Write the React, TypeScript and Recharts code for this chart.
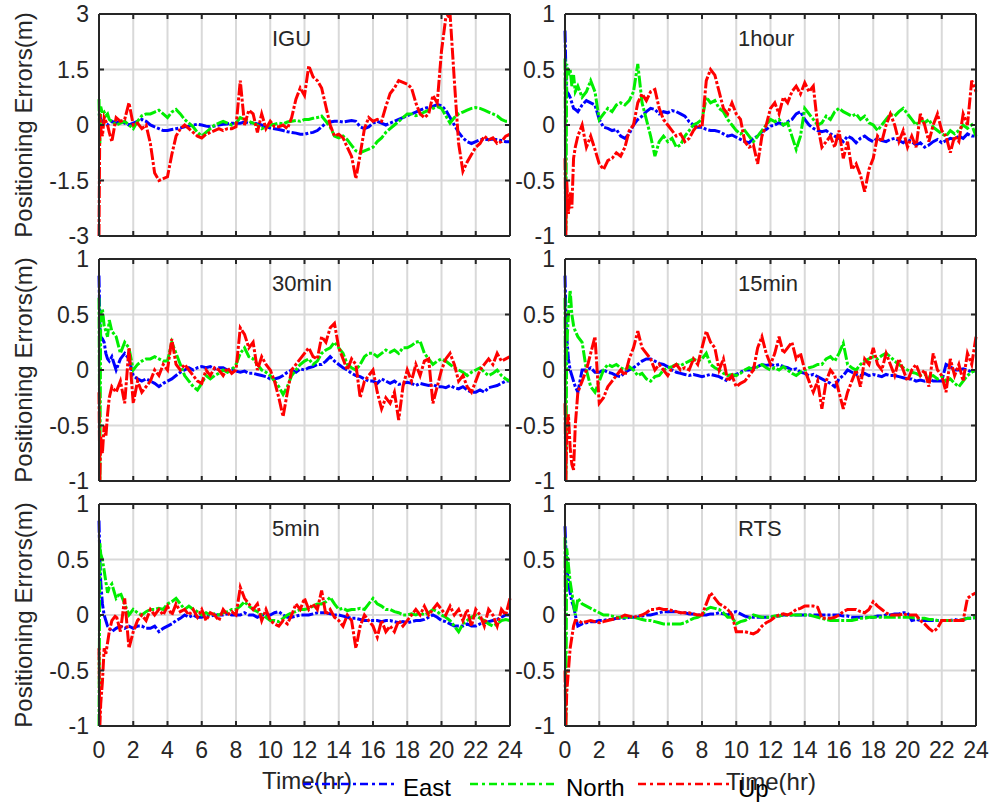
import { LineChart, Line, XAxis, YAxis, CartesianGrid } from "recharts";

const AXIS = "#262626";
const GRID = "#d9d9d9";
const FONT = "'Liberation Sans', Arial, sans-serif";
const EAST_COLOR = "#0000ff";
const NORTH_COLOR = "#00ee00";
const UP_COLOR = "#ff0000";
const DASH = "12 2 3 2";
const LEGEND_DASH = "8 4 3 4";

// time in hours (denser at the start where the filters converge)
const TIME = [
  0, 0.05, 0.1, 0.2, 0.3, 0.4, 0.5, 0.6, 0.75, 1,
  1.25, 1.5, 1.75, 2, 2.25, 2.5, 2.75, 3,
  3.25, 3.5, 3.75, 4, 4.25, 4.5, 4.75, 5,
  5.25, 5.5, 5.75, 6, 6.25, 6.5, 6.75, 7,
  7.25, 7.5, 7.75, 8, 8.25, 8.5, 8.75, 9,
  9.25, 9.5, 9.75, 10, 10.25, 10.5, 10.75, 11,
  11.25, 11.5, 11.75, 12, 12.25, 12.5, 12.75, 13,
  13.25, 13.5, 13.75, 14, 14.25, 14.5, 14.75, 15,
  15.25, 15.5, 15.75, 16, 16.25, 16.5, 16.75, 17,
  17.25, 17.5, 17.75, 18, 18.25, 18.5, 18.75, 19,
  19.25, 19.5, 19.75, 20, 20.25, 20.5, 20.75, 21,
  21.25, 21.5, 21.75, 22, 22.25, 22.5, 22.75, 23,
  23.25, 23.5, 23.75, 24,
];

const X_TICKS = [0, 2, 4, 6, 8, 10, 12, 14, 16, 18, 20, 22, 24];
const Y_TICKS_IGU = [-3, -1.5, 0, 1.5, 3];
const Y_TICKS = [-1, -0.5, 0, 0.5, 1];

// IGU
const IGU_EAST = [
  0.3, 0.25, 0.15, 0.1, 0.05, 0.05, 0, 0.05, 0.1, 0.05,
  0.1, 0.05, 0, 0.05, 0.1, 0.15, 0.1, 0,
  -0.05, -0.1, -0.15, -0.15, -0.12, -0.1, -0.08, -0.05,
  -0.03, 0, 0.02, 0, -0.03, -0.05, -0.03, 0,
  0.02, 0.03, 0.05, 0.05, 0.05, 0.08, 0.05, 0.06,
  0.03, 0, -0.05, -0.08, -0.1, -0.12, -0.15, -0.18,
  -0.2, -0.22, -0.25, -0.25, -0.22, -0.2, -0.15, -0.05,
  0.05, 0.08, 0.1, 0.1, 0.08, 0.1, 0.12, 0.1,
  -0.05, -0.1, -0.05, 0.05, 0.1, 0.05, 0, 0.05,
  0.1, 0.15, 0.2, 0.25, 0.3, 0.35, 0.4, 0.45,
  0.48, 0.5, 0.55, 0.52, 0.4, 0.2, 0, -0.2,
  -0.35, -0.45, -0.5, -0.45, -0.4, -0.38, -0.4, -0.38,
  -0.4, -0.42, -0.45, -0.45,
];
const IGU_NORTH = [
  0.7, -0.5, 0.5, 0.3, 0.35, 0.25, 0.3, 0.15, 0.1, 0,
  0.05, 0.1, 0, -0.1, 0.1, 0.25, 0.3, 0.3,
  0.35, 0.4, 0.3, 0.2, 0.35, 0.42, 0.3, 0.15,
  0.05, -0.05, -0.2, -0.3, -0.2, -0.1, 0, 0.05,
  0.1, 0.05, 0, 0.05, 0.2, 0.15, 0.1, 0.05,
  0, -0.1, -0.05, 0, 0.02, 0.05, 0.03, 0.08,
  0.1, 0.12, 0.1, 0.15, 0.15, 0.18, 0.2, 0.24,
  0.1, -0.05, -0.3, -0.35, -0.3, -0.4, -0.55, -0.7,
  -0.75, -0.7, -0.65, -0.6, -0.45, -0.35, -0.2, -0.1,
  0, 0.1, 0.2, 0.3, 0.3, 0.25, 0.28, 0.35,
  0.4, 0.45, 0.5, 0.45, 0.25, 0.05, 0.2, 0.3,
  0.35, 0.4, 0.45, 0.47, 0.45, 0.4, 0.35, 0.3,
  0.25, 0.15, 0.1, 0.1,
];
const IGU_UP = [
  -3, 0.3, -0.1, -0.3, 0.2, 0.1, 0, -0.2, -0.45, 0.2,
  0.1, 0.15, 0.6, 0, 0.05, -0.1, 0, -0.5,
  -1.3, -1.5, -1.45, -1.4, -0.8, -0.3, -0.1, 0,
  -0.1, -0.2, -0.3, -0.35, -0.25, -0.2, -0.15, -0.1,
  -0.15, -0.1, -0.1, -0.05, 1.2, 0, 0.4, 0.3,
  -0.2, 0.3, -0.1, 0.1, -0.05, -0.05, 0, -0.1,
  0.2, 0.7, 1, 0.8, 1.6, 1.3, 1.2, 1,
  0.5, 0, -0.3, -0.25, -0.35, -0.6, -0.85, -1.45,
  -0.8, -0.1, 0.2, 0.1, 0.15, 0.1, 0.5, 0.85,
  1, 1.2, 1.15, 1.1, 1, 0.6, 0.3, 0.2,
  0.3, 0.8, 0.6, 2, 2.9, 3, 1.2, -0.5,
  -1.25, -1, -0.8, -0.6, -0.5, -0.3, -0.4, -0.35,
  -0.5, -0.45, -0.3, -0.25,
];

// 1hour
const H1_EAST = [
  0.85, 0.5, 0.3, 0.28, 0.25, 0.2, 0.15, 0.14, 0.12, 0.18,
  0.22, 0.2, 0.18, 0.05, -0.02, -0.03, -0.05, -0.04,
  -0.1, -0.12, -0.08, 0, 0.05, 0.08, 0.12, 0.15,
  0.14, 0.1, 0.12, 0.11, 0.13, 0.12, 0.1, 0.08,
  0.03, 0, -0.02, -0.02, -0.04, -0.05, -0.05, -0.06,
  -0.08, -0.1, -0.09, -0.11, -0.13, -0.15, -0.16, -0.12,
  -0.1, -0.06, -0.04, -0.01, 0, 0.02, 0, 0.03,
  0.05, 0.1, 0.12, 0.05, 0, -0.03, -0.05, -0.06,
  -0.05, -0.08, -0.1, -0.12, -0.15, -0.1, -0.12, -0.16,
  -0.12, -0.1, -0.13, -0.15, -0.12, -0.14, -0.15, -0.13,
  -0.12, -0.14, -0.16, -0.13, -0.15, -0.18, -0.16, -0.2,
  -0.18, -0.15, -0.13, -0.16, -0.14, -0.12, -0.13, -0.1,
  -0.12, -0.08, -0.1, -0.1,
];
const H1_NORTH = [
  0.6, -0.95, 0.55, 0.45, 0.5, 0.35, 0.45, 0.3, 0.35, 0.25,
  0.3, 0.4, 0.3, 0.05, 0.1, 0.15, 0.12, 0.18,
  0.2, 0.18, 0.22, 0.3, 0.55, 0.2, 0.05, -0.1,
  -0.28, -0.15, -0.1, -0.15, -0.12, -0.2, -0.18, -0.1,
  -0.05, 0, 0.02, 0.05, 0.25, 0.2, 0.22, 0.15,
  0.12, 0.05, 0, -0.05, -0.08, -0.05, -0.1, -0.15,
  -0.1, -0.05, 0, 0.05, 0.03, 0.05, 0, 0.02,
  -0.1, -0.22, -0.1, 0.15, 0.1, 0.05, 0, 0.02,
  0.08, 0.05, 0.12, 0.15, 0.12, 0.1, 0.08, 0.1,
  0.05, 0.08, 0.02, 0, -0.05, 0, 0.05, 0.1,
  0.08, 0.12, 0.15, 0.1, 0.05, 0, 0.05, 0.02,
  0.05, -0.02, -0.05, -0.08, -0.1, -0.05, -0.08, -0.05,
  0, -0.03, 0, -0.1,
];
const H1_UP = [
  -0.3, -1, -0.5, -0.8, -0.6, -0.75, -0.3, -0.2, -0.1, 0,
  -0.2, -0.1, -0.22, -0.35, -0.4, -0.32, -0.3, -0.25,
  -0.28, -0.2, -0.05, 0, 0.2, 0.28, 0.22, 0.3,
  0.32, 0.15, 0.05, 0, -0.05, -0.1, -0.08, -0.15,
  -0.12, -0.05, 0, -0.02, 0.4, 0.5, 0.45, 0.3,
  0.15, 0.1, 0.2, 0.1, 0.05, -0.15, -0.2, -0.18,
  -0.35, -0.1, 0, 0.15, 0.2, 0.1, 0.25, 0.2,
  0.3, 0.35, 0.28, 0.38, 0.3, 0.35, 0, -0.2,
  -0.15, -0.1, -0.2, -0.05, -0.3, -0.15, -0.4, -0.35,
  -0.45, -0.6, -0.4, -0.3, -0.1, -0.15, 0, 0.1,
  0, -0.15, -0.05, -0.2, -0.1, -0.2, 0.1, 0,
  -0.15, 0, 0.1, -0.05, -0.1, -0.25, -0.1, -0.15,
  0.1, 0, 0.4, 0.3,
];

// 30min
const M30_EAST = [
  0.85, 0.4, 0.3, 0.28, 0.25, 0.15, 0.1, 0.08, 0.12, 0,
  0.1, 0.15, 0.1, -0.05, -0.08, -0.1, -0.08, -0.1,
  -0.12, -0.15, -0.12, -0.1, -0.08, -0.05, -0.02, 0,
  0.02, 0, 0.02, 0.03, 0.02, 0.03, 0.01, 0.02,
  0.02, 0, 0.01, -0.01, -0.02, -0.01, -0.03, -0.03,
  -0.04, -0.05, -0.06, -0.08, -0.08, -0.07, -0.05, -0.02,
  0, -0.02, 0.01, 0, 0.02, 0.03, 0.05, 0.05,
  0.08, 0.12, 0.08, 0.05, 0.02, 0, -0.03, -0.05,
  -0.06, -0.08, -0.1, -0.1, -0.12, -0.08, -0.1, -0.12,
  -0.1, -0.13, -0.12, -0.11, -0.12, -0.14, -0.12, -0.13,
  -0.14, -0.13, -0.15, -0.15, -0.16, -0.14, -0.16, -0.17,
  -0.15, -0.18, -0.2, -0.2, -0.18, -0.2, -0.16, -0.15,
  -0.14, -0.12, -0.1, -0.1,
];
const M30_NORTH = [
  0.65, -1, 0.5, 0.55, 0.4, 0.35, 0.3, 0.45, 0.35, 0.3,
  0.15, 0.25, 0.2, 0, 0.05, 0.08, 0.1, 0.1,
  0.12, 0.1, 0.08, 0.08, 0.25, 0.15, 0.05, -0.05,
  -0.1, -0.15, -0.18, -0.12, -0.05, -0.08, -0.05, -0.03,
  0, -0.02, 0, 0.05, 0.15, 0.2, 0.12, 0.1,
  0.05, 0, -0.02, -0.05, -0.1, -0.15, -0.22, -0.15,
  -0.05, 0, 0.05, 0.08, 0.1, 0.05, 0.08, 0.15,
  0.18, 0.2, 0.25, 0.2, 0.15, 0.05, 0.02, 0,
  0.05, 0.12, 0.15, 0.15, 0.12, 0.15, 0.18, 0.16,
  0.18, 0.15, 0.2, 0.2, 0.22, 0.25, 0.26, 0.15,
  0.1, 0.05, 0.08, 0.1, 0.08, 0.05, 0.02, 0,
  -0.02, -0.05, -0.02, 0, 0.02, -0.02, -0.05, -0.03,
  0, -0.05, -0.08, -0.1,
];
const M30_UP = [
  -0.2, -1, -0.6, -0.75, -0.5, -0.6, -0.4, -0.25, -0.15, -0.2,
  -0.1, -0.3, 0.2, -0.3, -0.1, -0.2, -0.15, -0.1,
  0, -0.05, 0.05, 0, 0.28, 0.05, 0, 0.05,
  0, -0.05, -0.1, -0.12, 0, -0.05, 0.02, 0,
  -0.05, 0.02, -0.03, 0, 0.38, 0.32, 0.2, 0.25,
  0, 0.12, 0.05, 0, -0.1, -0.25, -0.42, -0.2,
  0, 0.05, 0.1, 0.15, 0.2, 0.12, 0.1, 0.3,
  0.25, 0.38, 0.42, 0.2, 0.1, 0, 0.1, 0.05,
  -0.25, -0.1, -0.05, 0, -0.2, -0.35, -0.25, -0.3,
  -0.2, -0.45, -0.15, 0, -0.1, 0.05, -0.05, 0.08,
  0.1, -0.3, -0.15, 0, 0.1, 0.15, 0.05, -0.1,
  -0.05, -0.15, -0.2, -0.1, 0, 0.05, 0.1, 0.05,
  0.15, 0.08, 0.1, 0.12,
];

// 15min
const M15_EAST = [
  0.85, 0.5, 0.3, 0.1, 0, -0.05, -0.1, -0.15, -0.2, 0,
  0, 0.02, -0.02, -0.02, 0, -0.02, -0.03, -0.05,
  -0.06, -0.02, 0, 0.02, 0.05, 0.08, 0.1, 0.1,
  0.08, 0.06, 0.05, 0.03, 0, -0.02, -0.03, -0.04,
  -0.05, -0.04, -0.05, -0.06, -0.05, -0.04, -0.05, -0.06,
  -0.08, -0.1, -0.06, -0.04, -0.02, 0, 0, 0.02,
  0.03, 0.05, 0.04, 0.05, 0.04, 0.05, 0.03, 0.02,
  0, 0.01, -0.02, -0.03, -0.05, -0.04, -0.06, -0.08,
  -0.1, -0.12, -0.15, -0.08, -0.05, 0, -0.02, -0.04,
  -0.05, -0.03, -0.05, -0.04, -0.05, -0.06, -0.04, -0.05,
  -0.05, -0.06, -0.07, -0.08, -0.08, -0.1, -0.09, -0.1,
  -0.08, -0.1, -0.1, -0.1, 0.05, 0.03, 0, 0,
  0.01, 0, -0.02, 0,
];
const M15_NORTH = [
  0.65, -1, 0.2, 0.5, 0.72, 0.5, 0.4, 0.35, 0.3, 0.25,
  0, -0.15, -0.2, -0.1, 0, 0.05, 0.03, 0.05,
  0.02, 0, 0.03, 0, -0.05, -0.03, -0.08, -0.1,
  -0.06, -0.05, 0, 0.02, 0.03, 0.05, 0.04, 0.06,
  0.08, 0.1, 0.08, 0.1, 0.15, 0.05, 0.02, 0,
  -0.03, -0.05, -0.04, -0.05, -0.03, 0, 0.02, 0,
  0.03, 0.05, 0.02, 0, 0.02, 0, 0.03, 0,
  -0.03, -0.05, -0.02, 0, 0.02, 0.03, 0.05, 0.05,
  0.1, 0.12, 0.08, 0.15, 0.24, 0.05, 0.02, 0,
  0.05, 0.08, 0.1, 0.12, 0.1, 0.13, 0.15, 0.12,
  0.08, 0.05, 0.02, 0, -0.02, -0.03, -0.05, -0.04,
  -0.06, -0.05, -0.08, -0.06, -0.1, -0.08, -0.12, -0.15,
  -0.1, -0.05, -0.02, 0,
];
const M15_UP = [
  -0.3, -1, -0.6, -0.4, -0.7, -0.85, -0.9, -0.5, -0.2, -0.1,
  0, 0.15, 0.3, -0.3, -0.25, -0.15, -0.1, -0.05,
  0, -0.05, 0.1, 0.2, 0.35, 0.2, 0.15, 0.1,
  0, 0.05, 0, -0.05, 0.02, 0.05, 0, 0.02,
  0, 0.1, 0.05, 0.2, 0.35, 0.25, 0.2, 0,
  0.1, -0.1, -0.05, -0.15, -0.12, -0.1, -0.05, 0,
  0.2, 0.3, 0.15, 0.05, 0.15, 0.3, 0.15, 0.2,
  0.25, 0.1, 0.15, 0, -0.1, -0.2, -0.1, -0.35,
  -0.1, 0, -0.05, -0.2, -0.35, -0.2, -0.1, 0,
  -0.15, 0.1, 0.05, 0.2, 0.05, 0, 0.15, 0.05,
  -0.05, 0.1, 0, -0.1, 0, 0.05, -0.05, 0,
  -0.15, 0.15, 0, -0.05, -0.2, 0.1, -0.05, 0.05,
  -0.1, 0.15, 0.05, 0.3,
];

// 5min
const M5_EAST = [
  0.85, 0.5, 0.3, 0.1, 0, -0.05, -0.1, -0.12, -0.15, -0.12,
  -0.1, -0.12, -0.1, -0.12, -0.1, -0.1, -0.12, -0.12,
  -0.1, -0.15, -0.12, -0.1, -0.08, -0.05, -0.03, 0,
  -0.02, 0, -0.02, -0.02, 0, -0.01, 0, 0,
  0, 0.01, 0, 0, 0, 0.02, 0, 0,
  -0.02, 0, 0, 0, 0.02, 0.03, 0, -0.02,
  -0.02, -0.01, 0, 0, 0, 0.01, 0.02, 0.02,
  0.02, 0.01, 0, 0, -0.01, -0.02, -0.03, -0.03,
  -0.04, -0.05, -0.05, -0.05, -0.05, -0.06, -0.05, -0.05,
  -0.06, -0.07, -0.06, -0.07, -0.06, -0.05, -0.05, -0.04,
  -0.02, 0, -0.02, -0.05, -0.06, -0.08, -0.1, -0.1,
  -0.1, -0.08, -0.1, -0.1, -0.08, -0.07, -0.06, -0.05,
  -0.04, -0.02, 0, 0,
];
const M5_NORTH = [
  -1, 0.65, 0.55, 0.5, 0.4, 0.3, 0.2, 0.25, 0.28, 0.15,
  0.2, 0.1, 0, 0.05, 0.02, 0, 0.03, 0.05,
  0.05, 0.06, 0.05, 0.1, 0.12, 0.15, 0.1, 0.05,
  0.08, 0.05, 0.03, 0, 0.02, 0, 0.01, 0,
  0.02, 0.03, 0.05, 0.05, 0.08, 0.12, 0.08, 0.05,
  0.03, 0, -0.02, -0.05, -0.05, -0.06, -0.03, 0,
  0.02, 0.03, 0.05, 0.05, 0.06, 0.08, 0.1, 0.1,
  0.12, 0.16, 0.1, 0.05, 0.06, 0.04, 0.05, 0.05,
  0.06, 0.05, 0.1, 0.15, 0.1, 0.08, 0.05, 0.05,
  0.03, 0.02, 0, 0, 0.01, 0, 0.02, 0,
  0.02, 0.05, 0.03, 0, -0.02, -0.05, -0.1, -0.15,
  -0.08, -0.05, -0.02, 0, -0.03, -0.05, -0.08, -0.1,
  -0.08, -0.05, -0.04, -0.05,
];
const M5_UP = [
  -0.3, -1, -0.8, -0.6, -0.3, -0.35, -0.25, -0.15, -0.05, 0,
  -0.15, 0.15, -0.3, -0.15, -0.05, 0, -0.05, 0.05,
  0, 0.05, 0, 0.08, 0, 0.1, 0.03, 0.05,
  0, 0.05, -0.02, 0.05, -0.05, 0.02, 0, -0.05,
  0.05, 0, 0.03, 0, 0.25, 0.15, 0.1, 0.05,
  0.1, -0.05, 0.05, -0.05, -0.08, -0.1, -0.05, -0.08,
  0, 0.1, 0.05, 0.15, 0.05, 0.1, 0.05, 0.22,
  0, 0.05, -0.02, -0.05, -0.1, 0, -0.05, -0.3,
  -0.1, 0, -0.05, -0.1, -0.2, -0.05, -0.15, -0.1,
  -0.15, -0.05, -0.1, -0.05, 0, 0.05, 0, 0.08,
  0, 0.05, 0.1, 0.05, 0, 0.08, 0, 0.05,
  -0.05, 0.05, -0.1, 0.05, 0, -0.1, 0.05, 0,
  -0.1, 0.05, 0, 0.15,
];

// RTS
const RTS_EAST = [
  0.8, 0.6, 0.45, 0.3, 0.2, 0.12, 0.08, 0, -0.1, -0.08,
  -0.07, -0.06, -0.06, -0.05, -0.05, -0.04, -0.04, -0.03,
  -0.03, -0.03, -0.02, -0.02, -0.02, -0.01, 0, 0,
  0.01, 0.02, 0.03, 0.03, 0.03, 0.03, 0.02, 0.02,
  0.01, 0.01, 0, 0, 0, 0.01, 0.01, 0.02,
  0.01, 0, 0.02, 0.03, 0.01, -0.01, -0.02, -0.02,
  -0.02, -0.02, -0.02, -0.02, -0.01, -0.01, 0, 0,
  0, 0, 0, 0, 0, 0, 0, 0,
  0, 0, 0, 0, -0.01, -0.01, -0.02, -0.02,
  -0.02, -0.02, -0.02, -0.02, -0.01, -0.01, 0, 0,
  0.01, 0.01, 0.02, 0.02, -0.05, -0.04, -0.05, -0.05,
  -0.05, -0.05, -0.05, -0.05, -0.05, -0.05, -0.04, -0.05,
  -0.04, -0.03, -0.03, -0.02,
];
const RTS_NORTH = [
  0.7, -1, 0.6, 0.45, 0.3, 0.2, 0.1, 0, 0.15, 0.1,
  0.08, 0.06, 0.04, 0.02, 0, 0, -0.01, -0.02,
  -0.02, -0.02, -0.02, -0.02, -0.03, -0.04, -0.05, -0.05,
  -0.06, -0.07, -0.08, -0.08, -0.08, -0.08, -0.08, -0.07,
  -0.05, -0.03, -0.02, 0, 0.05, 0.07, 0.06, 0.05,
  0.02, -0.02, -0.02, -0.08, -0.06, -0.05, -0.03, 0,
  -0.01, -0.02, -0.02, -0.02, -0.01, -0.01, 0, 0,
  0, 0, 0, 0, 0, -0.01, -0.02, -0.03,
  -0.04, -0.05, -0.05, -0.05, -0.05, -0.05, -0.05, -0.04,
  -0.03, -0.03, -0.02, -0.02, -0.02, -0.02, -0.02, -0.02,
  -0.02, -0.02, -0.02, -0.02, -0.02, -0.03, -0.03, -0.03,
  -0.04, -0.04, -0.05, -0.05, -0.05, -0.05, -0.05, -0.05,
  -0.04, -0.03, -0.03, -0.02,
];
const RTS_UP = [
  -0.5, -1, -0.7, -0.5, -0.3, -0.2, -0.1, -0.05, -0.05, -0.07,
  -0.06, -0.05, -0.06, -0.07, -0.06, -0.05, -0.04, -0.03,
  -0.02, 0, -0.01, -0.02, -0.01, 0, 0.02, 0.05,
  0.05, 0.06, 0.05, 0.05, 0.04, 0.03, 0.02, 0.02,
  0.02, 0.01, 0, 0, 0.1, 0.2, 0.15, 0.1,
  0.08, 0.05, 0, -0.15, -0.15, -0.15, -0.16, -0.17,
  -0.15, -0.1, -0.07, -0.05, -0.02, 0, 0.01, 0,
  0.02, 0.05, 0.06, 0.08, 0.08, 0.08, 0.07, -0.03,
  -0.03, -0.03, -0.02, 0, 0.03, 0.05, 0.05, 0.05,
  0.03, 0.02, 0.05, 0.12, 0.08, 0.05, 0.02, 0,
  0, 0, 0.01, 0, 0, 0, -0.05, -0.08,
  -0.12, -0.15, -0.12, -0.05, -0.05, -0.05, -0.05, -0.05,
  -0.05, 0.15, 0.18, 0.2,
];

const PANELS = [
  { title: "IGU", east: IGU_EAST, north: IGU_NORTH, up: IGU_UP, yTicks: Y_TICKS_IGU, col: 0, row: 0 },
  { title: "1hour", east: H1_EAST, north: H1_NORTH, up: H1_UP, yTicks: Y_TICKS, col: 1, row: 0 },
  { title: "30min", east: M30_EAST, north: M30_NORTH, up: M30_UP, yTicks: Y_TICKS, col: 0, row: 1 },
  { title: "15min", east: M15_EAST, north: M15_NORTH, up: M15_UP, yTicks: Y_TICKS, col: 1, row: 1 },
  { title: "5min", east: M5_EAST, north: M5_NORTH, up: M5_UP, yTicks: Y_TICKS, col: 0, row: 2 },
  { title: "RTS", east: RTS_EAST, north: RTS_NORTH, up: RTS_UP, yTicks: Y_TICKS, col: 1, row: 2 },
];

// layout (page pixels)
const PLOT_X = [99, 565];
const PLOT_Y = [14, 259, 504];
const PLOT_W = 411;
const PLOT_H = 222;
const YAXIS_W = 70;
const XAXIS_H = 40;
const TOP_M = 12;
const RIGHT_M = 22;

const textStyle = { fontFamily: FONT, fill: AXIS };

function BottomTick({ x, y, payload, showLabel }: any) {
  return (
    <g>
      <line x1={x} x2={x} y1={y} y2={y - 5} stroke={AXIS} strokeWidth={2} />
      {showLabel && (
        <text x={x} y={y + 32} textAnchor="middle" fontSize={23} style={textStyle}>
          {payload.value}
        </text>
      )}
    </g>
  );
}

function TopTick({ x, y }: any) {
  return <line x1={x} x2={x} y1={y} y2={y + 5} stroke={AXIS} strokeWidth={2} />;
}

function LeftTick({ x, y, payload }: any) {
  return (
    <g>
      <line x1={x} x2={x + 5} y1={y} y2={y} stroke={AXIS} strokeWidth={2} />
      <text x={x - 10} y={y} dy="0.35em" textAnchor="end" fontSize={23} style={textStyle}>
        {payload.value}
      </text>
    </g>
  );
}

function RightTick({ x, y }: any) {
  return <line x1={x} x2={x - 5} y1={y} y2={y} stroke={AXIS} strokeWidth={2} />;
}

function Panel({ p }: any) {
  const data = TIME.map((t, i) => ({ t, east: p.east[i], north: p.north[i], up: p.up[i] }));
  const bottomRow = p.row === 2;
  const domain = [p.yTicks[0], p.yTicks[p.yTicks.length - 1]];
  const axisLine = { stroke: AXIS, strokeWidth: 2 };
  return (
    <div style={{ position: "absolute", left: PLOT_X[p.col] - YAXIS_W, top: PLOT_Y[p.row] - TOP_M - 1 }}>
      <LineChart
        width={YAXIS_W + PLOT_W + 1 + RIGHT_M}
        height={TOP_M + 1 + PLOT_H + XAXIS_H}
        data={data}
        margin={{ top: TOP_M, right: RIGHT_M, bottom: 0, left: 0 }}
      >
        <CartesianGrid stroke={GRID} strokeWidth={2} />
        <XAxis
          dataKey="t"
          type="number"
          domain={[0, 24]}
          ticks={X_TICKS}
          interval={0}
          height={XAXIS_H}
          tickSize={0}
          tickMargin={0}
          tickLine={false}
          axisLine={axisLine}
          tick={(props: any) => <BottomTick {...props} showLabel={bottomRow} />}
        />
        <XAxis
          xAxisId="top"
          orientation="top"
          dataKey="t"
          type="number"
          domain={[0, 24]}
          ticks={X_TICKS}
          interval={0}
          height={1}
          tickSize={0}
          tickMargin={0}
          tickLine={false}
          axisLine={axisLine}
          tick={(props: any) => <TopTick {...props} />}
        />
        <YAxis
          type="number"
          domain={domain}
          ticks={p.yTicks}
          interval={0}
          allowDataOverflow
          width={YAXIS_W}
          tickSize={0}
          tickMargin={0}
          tickLine={false}
          axisLine={axisLine}
          tick={(props: any) => <LeftTick {...props} />}
        />
        <YAxis
          yAxisId="r"
          orientation="right"
          type="number"
          domain={domain}
          ticks={p.yTicks}
          interval={0}
          allowDataOverflow
          width={1}
          tickSize={0}
          tickMargin={0}
          tickLine={false}
          axisLine={axisLine}
          tick={(props: any) => <RightTick {...props} />}
        />
        <Line dataKey="east" stroke={EAST_COLOR} strokeWidth={3} strokeDasharray={DASH} dot={false} isAnimationActive={false} />
        <Line dataKey="north" stroke={NORTH_COLOR} strokeWidth={3} strokeDasharray={DASH} dot={false} isAnimationActive={false} />
        <Line dataKey="up" stroke={UP_COLOR} strokeWidth={3} strokeDasharray={DASH} dot={false} isAnimationActive={false} />
      </LineChart>
    </div>
  );
}

export default function App() {
  return (
    <div style={{ position: "absolute", left: 0, top: 0, width: 1004, height: 803, background: "#fff", overflow: "hidden" }}>
      {PANELS.map((p) => (
        <Panel key={p.title} p={p} />
      ))}
      <svg width={1004} height={803} style={{ position: "absolute", left: 0, top: 0, pointerEvents: "none" }}>
        {PANELS.map((p) => (
          <text key={p.title} x={PLOT_X[p.col] + 173} y={PLOT_Y[p.row] + 32} fontSize={22} style={textStyle}>
            {p.title}
          </text>
        ))}
        {PLOT_Y.map((py) => (
          <text
            key={py}
            x={32}
            y={py + PLOT_H / 2}
            transform={`rotate(-90, 32, ${py + PLOT_H / 2})`}
            textAnchor="middle"
            fontSize={24}
            style={textStyle}
          >
            Positioning Errors(m)
          </text>
        ))}
        <text x={307} y={789} textAnchor="middle" fontSize={24} style={textStyle}>Time(hr)</text>
        <text x={771} y={790} textAnchor="middle" fontSize={24} style={textStyle}>Time(hr)</text>
        <line x1={303} x2={395} y1={784} y2={784} stroke={EAST_COLOR} strokeWidth={2.5} strokeDasharray={LEGEND_DASH} />
        <text x={403} y={796} fontSize={24} style={{ fontFamily: FONT, fill: "#000" }}>East</text>
        <line x1={470} x2={558} y1={784} y2={784} stroke={NORTH_COLOR} strokeWidth={2.5} strokeDasharray={LEGEND_DASH} />
        <text x={566} y={796} fontSize={24} style={{ fontFamily: FONT, fill: "#000" }}>North</text>
        <line x1={638} x2={732} y1={784} y2={784} stroke={UP_COLOR} strokeWidth={2.5} strokeDasharray={LEGEND_DASH} />
        <text x={738} y={797} fontSize={24} style={{ fontFamily: FONT, fill: "#000" }}>Up</text>
      </svg>
    </div>
  );
}
